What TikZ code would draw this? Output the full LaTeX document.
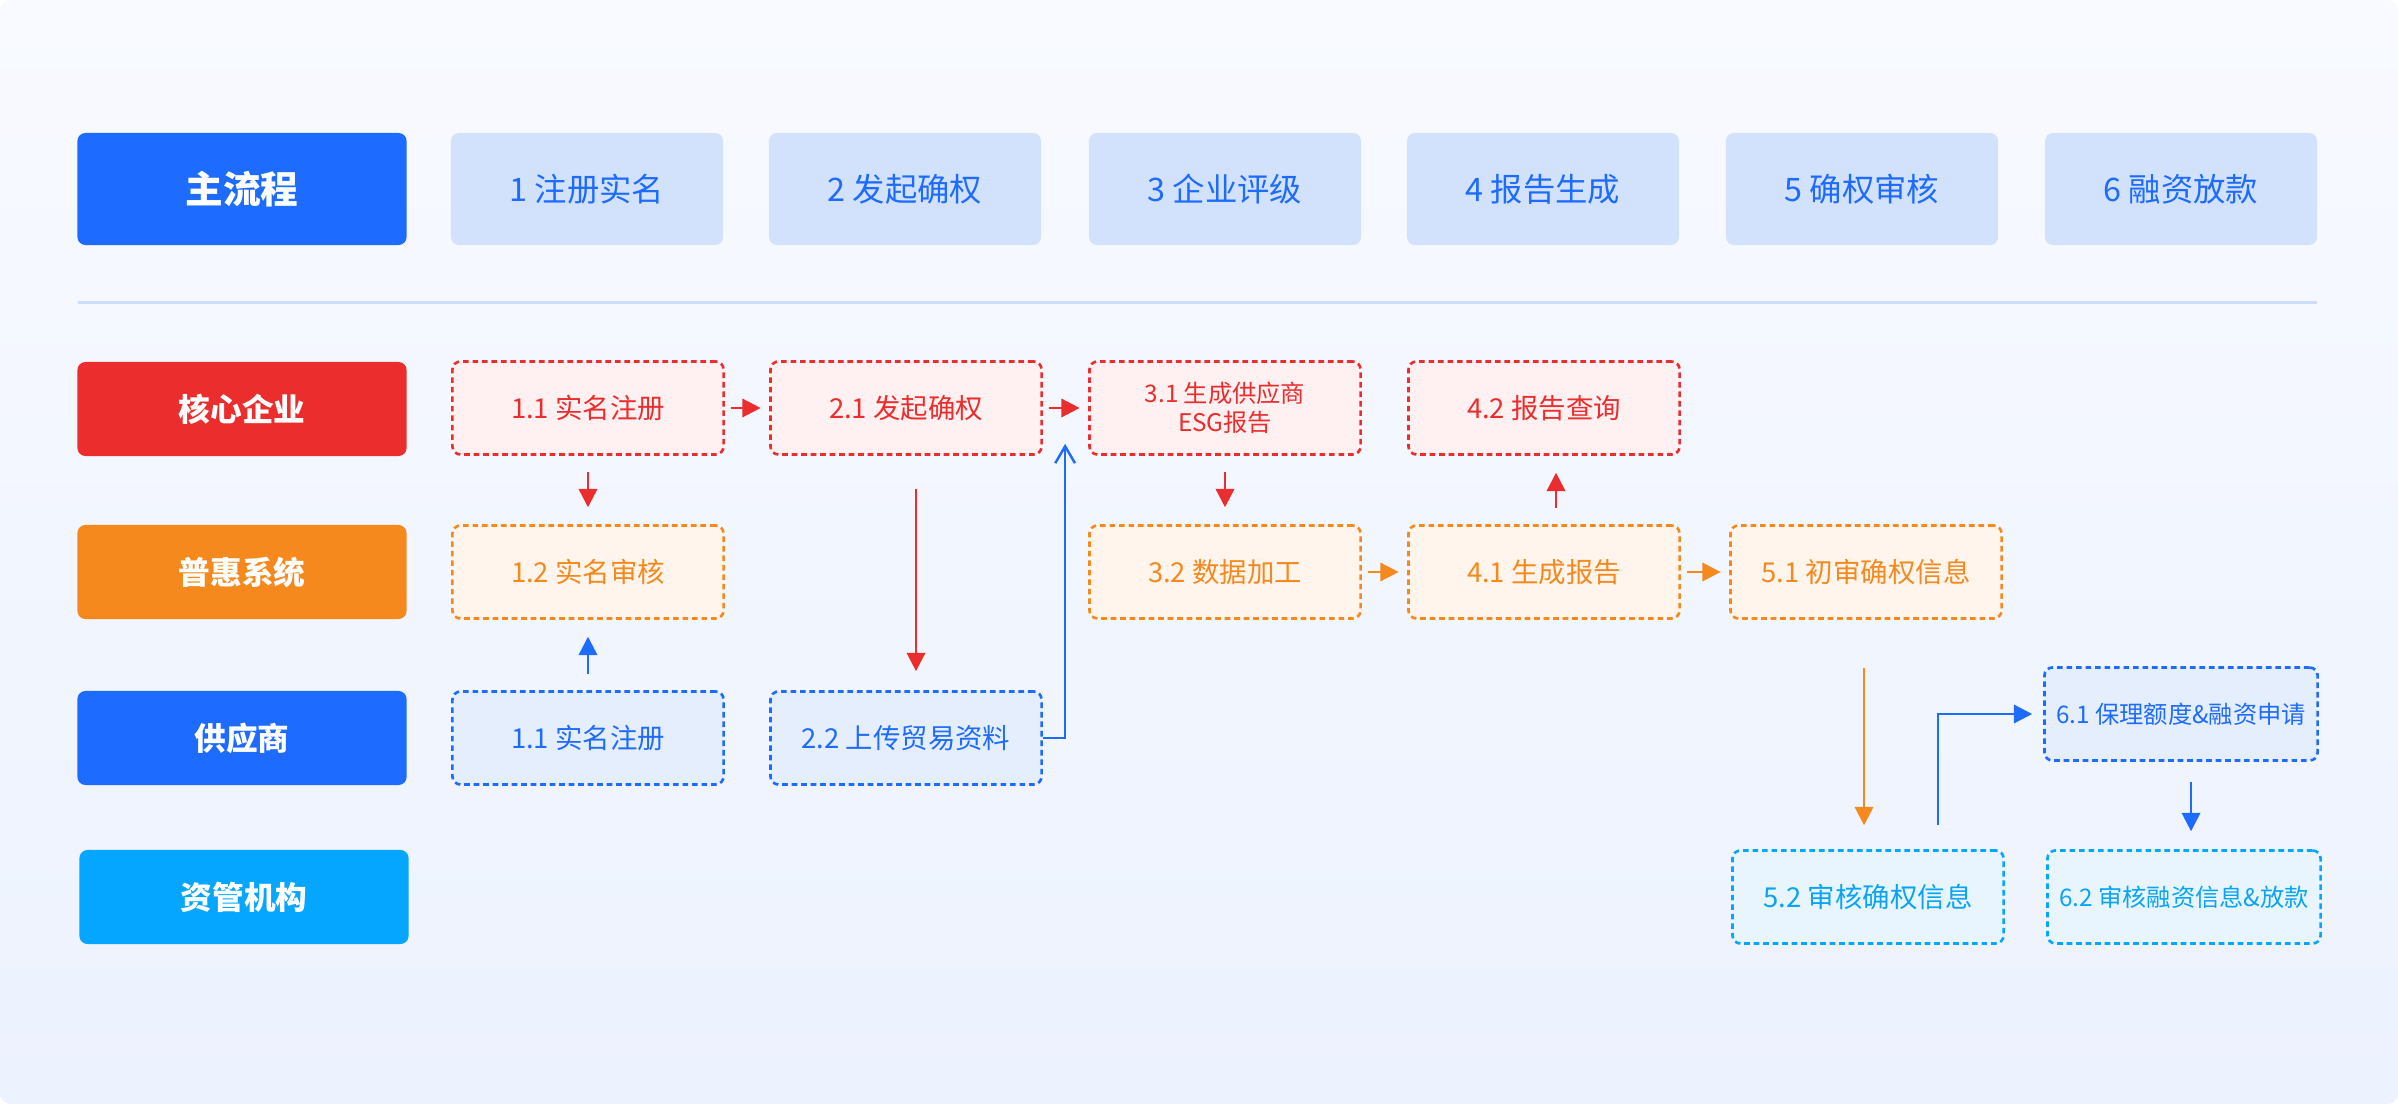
\documentclass[tikz,border=0pt]{standalone}
\usepackage{fontspec}
\setmainfont{Noto Sans CJK SC}
\usepackage{xcolor}
\usepackage{tikz}
\usetikzlibrary{positioning,calc,arrows.meta}

\definecolor{mainblue}{HTML}{1E6BFF}
\definecolor{corered}{HTML}{EC2D2D}
\definecolor{sysorange}{HTML}{F5891E}
\definecolor{amccyan}{HTML}{05A6FF}
\definecolor{stepfill}{HTML}{D3E2FC}
\definecolor{redfill}{HTML}{FFF0F1}
\definecolor{orangefill}{HTML}{FFF5EC}
\definecolor{bluefill}{HTML}{E5EEFD}
\definecolor{cyanfill}{HTML}{E8F5FF}
\definecolor{cyantext}{HTML}{0AA4F6}
\definecolor{sepline}{HTML}{CCDDFB}
\definecolor{bgtop}{HTML}{F8FAFF}
\definecolor{bgbot}{HTML}{ECF2FE}

\begin{document}
\begin{tikzpicture}[x=0.01cm, y=-0.01cm,
    lane/.style={rounded corners=2.3pt, minimum width=3.29cm, minimum height=0.94cm, text=white, font=\bfseries\fontsize{9}{10}\selectfont},
    stage/.style={fill=stepfill, rounded corners=2.3pt, minimum width=2.72cm, minimum height=1.12cm, text=mainblue, font=\fontsize{9.2}{10}\selectfont},
    task/.style={dash pattern=on 1.6pt off 1.1pt, line width=0.75pt, rounded corners=2.3pt, minimum width=2.71cm, minimum height=0.93cm, align=center, font=\fontsize{7.8}{9}\selectfont},
    small/.style={font=\fontsize{6.9}{8.4}\selectfont},
    redtask/.style={task, draw=corered, fill=redfill, text=corered},
    orangetask/.style={task, draw=sysorange, fill=orangefill, text=sysorange},
    bluetask/.style={task, draw=mainblue, fill=bluefill, text=mainblue},
    cyantask/.style={task, draw=amccyan, fill=cyanfill, text=cyantext},
    flow/.style={line width=0.7pt, shorten <=1.6pt, shorten >=2.4pt, -{Triangle[length=5.2pt,width=5.2pt]}},
    vflow/.style={flow, shorten <=4.5pt, shorten >=4.8pt}]

    % Background
    \shade[top color=bgtop, bottom color=bgbot, rounded corners=3pt] (0,0) rectangle (2398,1104);

    % Main flow header
    \node[lane, fill=mainblue, minimum height=1.12cm, font=\bfseries\fontsize{10.7}{12}\selectfont] (main) at (242,189) {主流程};
    \node[stage] (st1) at (587,189) {1 注册实名};
    \node[stage] (st2) at (905,189) {2 发起确权};
    \node[stage] (st3) at (1225,189) {3 企业评级};
    \node[stage] (st4) at (1543,189) {4 报告生成};
    \node[stage] (st5) at (1862,189) {5 确权审核};
    \node[stage] (st6) at (2181,189) {6 融资放款};

    \coordinate (sepl) at (78,303);
    \coordinate (sepr) at (2317,303);
    \draw[sepline, line width=0.85pt] (sepl) -- (sepr);

    % Lanes
    \node[lane, fill=corered] (core) at (242,409) {核心企业};
    \node[lane, fill=sysorange] (sys) at (242,572) {普惠系统};
    \node[lane, fill=mainblue] (sup) at (242,738) {供应商};
    \node[lane, fill=amccyan] (amc) at (244,897) {资管机构};

    % Tasks
    \node[redtask] (t11) at (588,408) {1.1 实名注册};
    \node[redtask] (t21) at (906,408) {2.1 发起确权};
    \node[redtask, small] (t31) at (1225,408) {3.1 生成供应商\\ESG报告};
    \node[redtask] (t42) at (1544,408) {4.2 报告查询};
    \node[orangetask] (t12) at (588,572) {1.2 实名审核};
    \node[orangetask] (t32) at (1225,572) {3.2 数据加工};
    \node[orangetask] (t41) at (1544,572) {4.1 生成报告};
    \node[orangetask] (t51) at (1866,572) {5.1 初审确权信息};
    \node[bluetask] (s11) at (588,738) {1.1 实名注册};
    \node[bluetask] (t22) at (906,738) {2.2 上传贸易资料};
    \node[bluetask, small] (t61) at (2181,714) {6.1 保理额度\&融资申请};
    \node[cyantask] (t52) at (1868,897) {5.2 审核确权信息};
    \node[cyantask, small] (t62) at (2184,897) {6.2 审核融资信息\&放款};

    % Connectors
    \draw[flow, corered] (t11) -- (t21);
    \draw[flow, corered] (t21) -- (t31);
    \draw[vflow, corered] (t11) -- (t12);
    \draw[vflow, mainblue] (s11) -- (t12);
    \draw[vflow, corered, shorten <=9.4pt, shorten >=5.4pt] ($(t21.south)+(10,0)$) -- ($(t22.north)+(10,0)$);
    \draw[line width=0.7pt, mainblue, -{Straight Barb[length=4.8pt,width=5.6pt]}] (t22.east) -| ($(t31.south west)+(-23,-12)$);
    \draw[vflow, corered] (t31) -- (t32);
    \draw[flow, sysorange] (t32) -- (t41);
    \draw[vflow, corered] ($(t41.north)+(12,0)$) -- ($(t42.south)+(12,0)$);
    \draw[flow, sysorange] (t41) -- (t51);
    \draw[vflow, sysorange, shorten <=13.7pt, shorten >=6.8pt] ($(t51.south)+(-2,0)$) -- ($(t52.north)+(-4,0)$);
    \draw[flow, mainblue, shorten <=6.8pt, shorten >=3.1pt] ($(t52.north)+(70,0)$) |- (t61.west);
    \draw[vflow, mainblue, shorten <=5.7pt, shorten >=5.1pt] ($(t61.south)+(10,0)$) -- ($(t62.north)+(7,0)$);
\end{tikzpicture}
\end{document}
